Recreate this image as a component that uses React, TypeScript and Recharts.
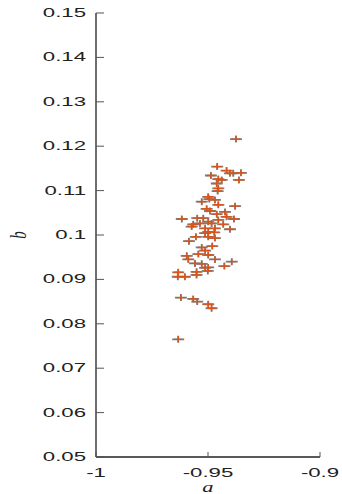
import React from 'react'
import { ScatterChart, Scatter, XAxis, YAxis, Label } from 'recharts'

// estimated samples (a, b)
const aVals = [
  -0.9375, -0.9459, -0.9487, -0.9417, -0.9402, -0.9387, -0.9353, -0.9362, -0.9454, -0.9461,
  -0.9439, -0.9454, -0.9457, -0.9499, -0.9469, -0.9528, -0.9494, -0.9454, -0.9379, -0.9506,
  -0.9491, -0.9424, -0.9461, -0.9417, -0.9617, -0.9548, -0.9521, -0.9384, -0.9499, -0.9454,
  -0.9566, -0.9536, -0.9484, -0.9432, -0.9573, -0.9513, -0.9469, -0.9402, -0.9499, -0.9472,
  -0.9513, -0.9554, -0.9585, -0.9499, -0.9469, -0.9481, -0.9528, -0.9513, -0.9543, -0.9595,
  -0.9499, -0.9469, -0.9588, -0.9558, -0.9528, -0.9394, -0.9513, -0.9499, -0.9427, -0.9551,
  -0.9501, -0.9633, -0.9635, -0.9603, -0.9551, -0.9621, -0.9566, -0.9548, -0.9499, -0.9484,
  -0.9633,
]
const bVals = [
  0.1216, 0.1154, 0.1134, 0.1145, 0.1139, 0.1139, 0.1140, 0.1124, 0.1126, 0.1116,
  0.1124, 0.1105, 0.1099, 0.1086, 0.1079, 0.1075, 0.1081, 0.1068, 0.1065, 0.1059,
  0.1054, 0.1052, 0.1047, 0.1041, 0.1036, 0.1038, 0.1038, 0.1036, 0.1030, 0.1034,
  0.1024, 0.1026, 0.1026, 0.1024, 0.1019, 0.1015, 0.1015, 0.1013, 0.1007, 0.1006,
  0.1004, 0.0996, 0.0986, 0.0996, 0.0993, 0.0975, 0.0972, 0.0965, 0.0957, 0.0953,
  0.0955, 0.0945, 0.0945, 0.0936, 0.0935, 0.0940, 0.0926, 0.0927, 0.0930, 0.0917,
  0.0919, 0.0916, 0.0906, 0.0906, 0.0910, 0.0859, 0.0856, 0.0850, 0.0844, 0.0835,
  0.0765,
]
const xTicks = [-1, -0.95, -0.9]
const xTickLabels = ['-1', '-0.95', '-0.9']
const yTicks = [0.05, 0.06, 0.07, 0.08, 0.09, 0.1, 0.11, 0.12, 0.13, 0.14, 0.15]
const yTickLabels = ['0.05', '0.06', '0.07', '0.08', '0.09', '0.1', '0.11', '0.12', '0.13', '0.14', '0.15']

const points = aVals.map((a, i) => ({ a, b: bVals[i] }))

const FONT = "'Liberation Sans', Arial, sans-serif"
const SERIF = "'Liberation Serif', 'DejaVu Serif', serif"
const GREY = '#7f7f7f'
const ORANGE = '#d9541a'

/* eslint-disable @typescript-eslint/no-explicit-any */
const plus = (color: string, hw: number, hh: number, w: number) => (p: any) => {
  const { cx, cy } = p
  return (
    <path d={`M${cx - hw},${cy}H${cx + hw}M${cx},${cy - hh}V${cy + hh}`} stroke={color} strokeWidth={w} fill="none" />
  )
}

const YTick = (p: any) => {
  const i = yTicks.findIndex((t) => Math.abs(t - p.payload.value) < 1e-9)
  return (
    <g>
      <line x1={p.x} x2={p.x + 8} y1={p.y} y2={p.y} stroke="#555" strokeWidth={1} />
      <text transform={`translate(${p.x - 10},${p.y}) scale(1.85,1)`} textAnchor="end" dominantBaseline="central"
        fontSize={12} fontFamily={FONT} fill="#222">{yTickLabels[i]}</text>
    </g>
  )
}

const XTick = (p: any) => {
  const i = xTicks.findIndex((t) => Math.abs(t - p.payload.value) < 1e-9)
  return (
    <g>
      <line x1={p.x} x2={p.x} y1={p.y} y2={p.y - 5} stroke="#555" strokeWidth={1} />
      <text transform={`translate(${p.x},${p.y + 16}) scale(1.85,1)`} textAnchor="middle" dominantBaseline="central"
        fontSize={12} fontFamily={FONT} fill="#222">{xTickLabels[i]}</text>
    </g>
  )
}
/* eslint-enable @typescript-eslint/no-explicit-any */

export default function App() {
  return (
    <div style={{ position: 'absolute', left: 0, top: 0, width: 342, height: 494, background: '#fff' }}>
      <ScatterChart width={342} height={494} margin={{ top: 13, right: 22, bottom: 0, left: 0 }}>
        <XAxis type="number" dataKey="a" domain={[-1, -0.9]} ticks={xTicks} allowDataOverflow
          axisLine={{ stroke: '#222', strokeWidth: 1.3 }} tickLine={false} tickSize={0} tickMargin={0}
          tick={XTick} height={37}>
          <Label content={(p: any) => (
            <text transform={`translate(${p.viewBox.x + p.viewBox.width / 2},492) scale(1.5,1)`} textAnchor="middle"
              fontSize={15} fontStyle="italic" fontFamily={SERIF} fill="#222">a</text>
          )} />
        </XAxis>
        <YAxis type="number" dataKey="b" domain={[0.05, 0.15]} ticks={yTicks} allowDataOverflow
          axisLine={{ stroke: '#222', strokeWidth: 1.3 }} tickLine={false} tickSize={0} tickMargin={0}
          tick={YTick} width={96}>
          <Label content={(p: any) => (
            <text transform={`translate(18,${p.viewBox.y + p.viewBox.height / 2}) scale(1.6,1) rotate(-90)`} textAnchor="middle"
              dominantBaseline="central" fontSize={15} fontStyle="italic" fontFamily={SERIF} fill="#222">b</text>
          )} />
        </YAxis>
        <Scatter data={points} shape={plus(GREY, 6, 3.5, 1.8)} isAnimationActive={false} />
        <Scatter data={points} shape={plus(ORANGE, 4.5, 3, 1.4)} isAnimationActive={false} />
      </ScatterChart>
    </div>
  )
}
